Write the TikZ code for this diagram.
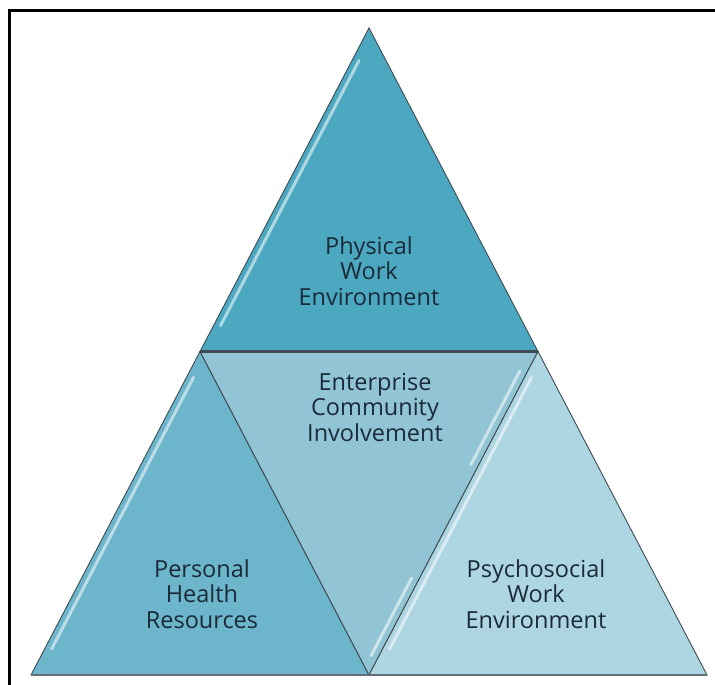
\documentclass[tikz,border=0pt]{standalone}
\usepackage{fontspec}
\setmainfont{Open Sans}
\usetikzlibrary{calc}

\definecolor{tealtop}{HTML}{4CA8C0}
\definecolor{tealleft}{HTML}{6CB5CB}
\definecolor{tealmid}{HTML}{91C4D5}
\definecolor{tealright}{HTML}{AED6E2}
\definecolor{edgegray}{HTML}{3E4B52}
\definecolor{inkblue}{HTML}{1A2A38}

\begin{document}
\begin{tikzpicture}[x=1pt,y=-1pt,
tri/.style={draw=edgegray,line width=0.9pt,line join=miter},
gloss/.style={white,opacity=0.55,line width=3pt,line cap=round},
label/.style={text=inkblue,align=center,font=\fontsize{23.5}{25.5}\selectfont},
]
\useasboundingbox (0,0) rectangle (715,685);

% frame
\draw[line width=2.4pt] (9.5,10.5) rectangle (740,710);

% corners of the big triangle
\coordinate (top) at (369,28);
\coordinate (ml) at (200,351.5);
\coordinate (mr) at (538,351.5);
\coordinate (bl) at (31,675);
\coordinate (bm) at (369,675);
\coordinate (br) at (707,675);

% the four parts
\filldraw[tri,fill=tealtop] (top) -- (ml) -- (mr) -- cycle;
\filldraw[tri,fill=tealleft] (ml) -- (bl) -- (bm) -- cycle;
\filldraw[tri,fill=tealmid] (ml) -- (mr) -- (bm) -- cycle;
\filldraw[tri,fill=tealright] (mr) -- (bm) -- (br) -- cycle;

% heavier seams
\draw[edgegray,line width=2.2pt] (ml) -- (mr);
\draw[edgegray!80,line width=2pt] (bl) -- (br);

% glossy streaks
\draw[gloss] ($(top)!0.1!(ml)+(7,0)$) -- ($(top)!0.92!(ml)+(7,0)$);
\draw[gloss] ($(ml)!0.08!(bl)+(7,0)$) -- ($(ml)!0.92!(bl)+(7,0)$);
\draw[gloss] ($(mr)!0.08!(bm)+(7,0)$) -- ($(mr)!0.92!(bm)+(7,0)$);
\draw[gloss] ($(mr)!0.06!(bm)+(-8,0)$) -- ($(mr)!0.35!(bm)+(-8,0)$);
\draw[gloss] ($(mr)!0.7!(bm)+(-8,0)$) -- ($(mr)!0.94!(bm)+(-8,0)$);

% texts
\node[label] (physical) at (369,271) {Physical\\Work\\Environment};
\node[label] (enterprise) at (375,407) {Enterprise\\Community\\Involvement};
\node[label] (personal) at (202,594) {Personal\\Health\\Resources};
\node[label] (psycho) at (536,594) {Psychosocial\\Work\\Environment};
\end{tikzpicture}
\end{document}
